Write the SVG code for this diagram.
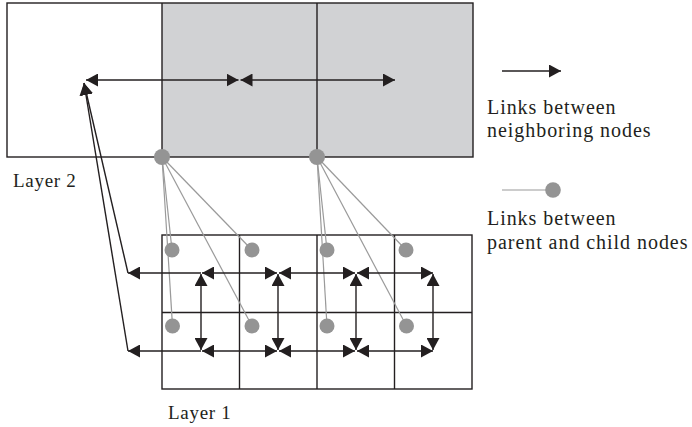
<svg xmlns="http://www.w3.org/2000/svg" width="692" height="427" viewBox="0 0 692 427">
<style>
.grid{fill:none;stroke:#231f20;stroke-width:1.4}
.arr{stroke:#231f20;stroke-width:1.4;fill:none}
.pc{stroke:#9a9a9a;stroke-width:1.2;fill:none}
.node{fill:#949494}
.txt{font-family:"Liberation Serif","Times New Roman",serif;font-size:20px;fill:#231f20;letter-spacing:0.95px}
.lbl{font-family:"Liberation Serif","Times New Roman",serif;font-size:19px;fill:#231f20;letter-spacing:0.7px}
</style>
<defs>
<marker id="ah" viewBox="0 0 12 13" refX="12" refY="6.5" markerWidth="12" markerHeight="13" markerUnits="userSpaceOnUse" orient="auto-start-reverse">
<path d="M0,0 L12,6.5 L0,13 z" fill="#231f20"/>
</marker>
</defs>
<rect width="692" height="427" fill="#ffffff"/>

<g id="layer2">
<rect x="162" y="3" width="311" height="154" fill="#d1d2d4"/>
<rect class="grid" x="7" y="3" width="466" height="154"/>
<line class="grid" x1="162" y1="3" x2="162" y2="157"/>
<line class="grid" x1="317" y1="3" x2="317" y2="157"/>
</g>

<g id="layer1">
<rect class="grid" x="162" y="235" width="310" height="154"/>
<line class="grid" x1="239.5" y1="235" x2="239.5" y2="389"/>
<line class="grid" x1="317" y1="235" x2="317" y2="389"/>
<line class="grid" x1="394.5" y1="235" x2="394.5" y2="389"/>
<line class="grid" x1="162" y1="312.5" x2="472" y2="312.5"/>
</g>

<g id="connectors">
<g id="parent-child-links">
<line class="pc" x1="162" y1="157" x2="172" y2="250"/>
<line class="pc" x1="162" y1="157" x2="172.5" y2="326"/>
<line class="pc" x1="162" y1="157" x2="252" y2="250"/>
<line class="pc" x1="162" y1="157" x2="252" y2="326"/>
<line class="pc" x1="317" y1="157" x2="327" y2="250"/>
<line class="pc" x1="317" y1="157" x2="327" y2="326"/>
<line class="pc" x1="317" y1="157" x2="406" y2="250"/>
<line class="pc" x1="317" y1="157" x2="406.5" y2="326"/>
</g>
<g id="neighbor-links">
<line class="arr" x1="86" y1="80" x2="238.5" y2="80" marker-start="url(#ah)" marker-end="url(#ah)"/>
<line class="arr" x1="240.5" y1="80" x2="395" y2="80" marker-start="url(#ah)" marker-end="url(#ah)"/>
<line class="arr" x1="201" y1="273" x2="128" y2="273" marker-end="url(#ah)"/>
<line class="arr" x1="201" y1="351" x2="128" y2="351" marker-end="url(#ah)"/>
<line class="arr" x1="128" y1="273" x2="84" y2="83" marker-end="url(#ah)"/>
<line class="arr" x1="128" y1="351" x2="84" y2="83" marker-end="url(#ah)"/>
<line class="arr" x1="202" y1="273" x2="277" y2="273" marker-start="url(#ah)" marker-end="url(#ah)"/>
<line class="arr" x1="279" y1="273" x2="355" y2="273" marker-start="url(#ah)" marker-end="url(#ah)"/>
<line class="arr" x1="357" y1="273" x2="433" y2="273" marker-start="url(#ah)" marker-end="url(#ah)"/>
<line class="arr" x1="202" y1="351" x2="277" y2="351" marker-start="url(#ah)" marker-end="url(#ah)"/>
<line class="arr" x1="279" y1="351" x2="355" y2="351" marker-start="url(#ah)" marker-end="url(#ah)"/>
<line class="arr" x1="357" y1="351" x2="433" y2="351" marker-start="url(#ah)" marker-end="url(#ah)"/>
<line class="arr" x1="201" y1="274" x2="201" y2="350" marker-start="url(#ah)" marker-end="url(#ah)"/>
<line class="arr" x1="278" y1="274" x2="278" y2="350" marker-start="url(#ah)" marker-end="url(#ah)"/>
<line class="arr" x1="356" y1="274" x2="356" y2="350" marker-start="url(#ah)" marker-end="url(#ah)"/>
<line class="arr" x1="433" y1="274" x2="433" y2="350" marker-start="url(#ah)" marker-end="url(#ah)"/>
</g>
</g>

<g id="parent-node-1"><circle class="node" cx="162" cy="157" r="8"/></g>
<g id="parent-node-2"><circle class="node" cx="317" cy="157" r="8"/></g>
<g id="child-node-1"><circle class="node" cx="172" cy="250" r="7.5"/></g>
<g id="child-node-2"><circle class="node" cx="252" cy="250" r="7.5"/></g>
<g id="child-node-3"><circle class="node" cx="327" cy="250" r="7.5"/></g>
<g id="child-node-4"><circle class="node" cx="406" cy="250" r="7.5"/></g>
<g id="child-node-5"><circle class="node" cx="172.5" cy="326" r="7.5"/></g>
<g id="child-node-6"><circle class="node" cx="252" cy="326" r="7.5"/></g>
<g id="child-node-7"><circle class="node" cx="327" cy="326" r="7.5"/></g>
<g id="child-node-8"><circle class="node" cx="406.5" cy="326" r="7.5"/></g>

<g id="labels">
<text class="lbl" x="13" y="187">Layer 2</text>
<text class="lbl" x="168" y="419">Layer 1</text>
</g>

<g id="legend">
<line class="arr" x1="502" y1="71" x2="561" y2="71" marker-end="url(#ah)"/>
<text class="txt" x="487" y="114">Links between</text>
<text class="txt" x="487" y="137">neighboring nodes</text>
<line class="pc" x1="502" y1="190" x2="550" y2="190"/>
<circle class="node" cx="553" cy="190" r="7.8"/>
<text class="txt" x="487" y="225">Links between</text>
<text class="txt" x="487" y="249">parent and child nodes</text>
</g>
</svg>
